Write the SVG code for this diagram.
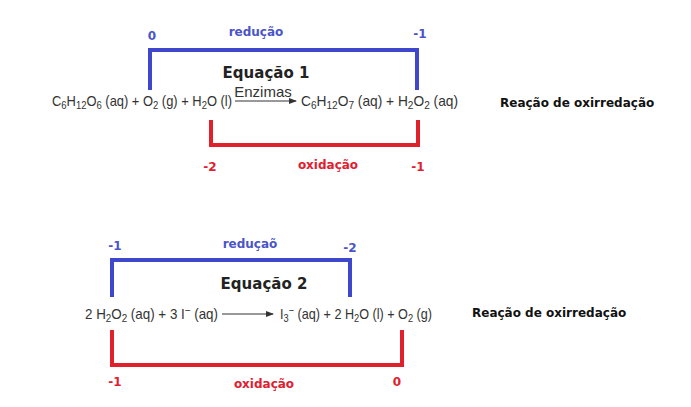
<svg xmlns="http://www.w3.org/2000/svg" width="691" height="407" viewBox="0 0 691 407">
<style>
.eq{font-family:"Liberation Sans",Arial,sans-serif;font-size:15px;fill:#333}
.b{font-family:"DejaVu Sans",sans-serif;font-weight:bold;font-size:12px}
.bl{fill:#4a55c8}.rd{fill:#e02030}
.t{font-family:"DejaVu Sans",sans-serif;font-weight:bold;font-size:15px;fill:#222}
.r{font-family:"DejaVu Sans",sans-serif;font-weight:bold;font-size:12px;fill:#111}
.bb{fill:none;stroke:#3f48cc;stroke-width:4}
.rb{fill:none;stroke:#e0202a;stroke-width:4}
</style>
<defs><marker id="ah" markerWidth="8" markerHeight="6" refX="7" refY="3" orient="auto" markerUnits="userSpaceOnUse"><path d="M0,0L8,3L0,6z" fill="#333"/></marker></defs>
<rect width="691" height="407" fill="#fff"/>
<g id="connectors">
<path class="bb" d="M150,90V50H417V90"/>
<path class="rb" d="M211,120V145H418V120"/>
<path class="bb" d="M112,297V260H350V297"/>
<path class="rb" d="M112,330V365H402V330"/>
<line x1="235" y1="101" x2="296" y2="101" stroke="#333" stroke-width="1" marker-end="url(#ah)"/>
<line x1="222" y1="314" x2="273" y2="314" stroke="#333" stroke-width="1" marker-end="url(#ah)"/>
</g>
<g id="eq1">
<text class="b bl" x="152" y="40" text-anchor="middle">0</text>
<text class="b bl" x="256" y="36" text-anchor="middle">redução</text>
<text class="b bl" x="420" y="38" text-anchor="middle">-1</text>
<text class="t" x="266" y="78" text-anchor="middle">Equação 1</text>
<text class="eq" x="52" y="106" textLength="180" lengthAdjust="spacingAndGlyphs">C<tspan dy="3" font-size="11">6</tspan><tspan dy="-3">H</tspan><tspan dy="3" font-size="11">12</tspan><tspan dy="-3">O</tspan><tspan dy="3" font-size="11">6</tspan><tspan dy="-3"> (aq) + O</tspan><tspan dy="3" font-size="11">2</tspan><tspan dy="-3"> (g) + H</tspan><tspan dy="3" font-size="11">2</tspan><tspan dy="-3">O (l)</tspan></text>
<text class="eq" x="263" y="97" text-anchor="middle" font-size="12">Enzimas</text>
<text class="eq" x="301" y="106" textLength="157" lengthAdjust="spacingAndGlyphs">C<tspan dy="3" font-size="11">6</tspan><tspan dy="-3">H</tspan><tspan dy="3" font-size="11">12</tspan><tspan dy="-3">O</tspan><tspan dy="3" font-size="11">7</tspan><tspan dy="-3"> (aq) + H</tspan><tspan dy="3" font-size="11">2</tspan><tspan dy="-3">O</tspan><tspan dy="3" font-size="11">2</tspan><tspan dy="-3"> (aq)</tspan></text>
<text class="b rd" x="210" y="171" text-anchor="middle">-2</text>
<text class="b rd" x="328" y="169" text-anchor="middle">oxidação</text>
<text class="b rd" x="418" y="171" text-anchor="middle">-1</text>
<text class="r" x="500" y="107">Reação de oxirredação</text>
</g>
<g id="eq2">
<text class="b bl" x="115" y="250" text-anchor="middle">-1</text>
<text class="b bl" x="250" y="248" text-anchor="middle">reduçaõ</text>
<text class="b bl" x="350" y="252" text-anchor="middle">-2</text>
<text class="t" x="264" y="289" text-anchor="middle">Equação 2</text>
<text class="eq" x="85" y="319" textLength="133" lengthAdjust="spacingAndGlyphs">2 H<tspan dy="3" font-size="11">2</tspan><tspan dy="-3">O</tspan><tspan dy="3" font-size="11">2</tspan><tspan dy="-3"> (aq) + 3 I</tspan><tspan dy="-5" font-size="11">−</tspan><tspan dy="5"> (aq)</tspan></text>
<text class="eq" x="280" y="319" textLength="152" lengthAdjust="spacingAndGlyphs">I<tspan dy="3" font-size="11">3</tspan><tspan dy="-8" font-size="11">−</tspan><tspan dy="5"> (aq) + 2 H</tspan><tspan dy="3" font-size="11">2</tspan><tspan dy="-3">O (l) + O</tspan><tspan dy="3" font-size="11">2</tspan><tspan dy="-3"> (g)</tspan></text>
<text class="b rd" x="115" y="386" text-anchor="middle">-1</text>
<text class="b rd" x="264" y="388" text-anchor="middle">oxidação</text>
<text class="b rd" x="397" y="386" text-anchor="middle">0</text>
<text class="r" x="472" y="317">Reação de oxirredação</text>
</g>
</svg>
